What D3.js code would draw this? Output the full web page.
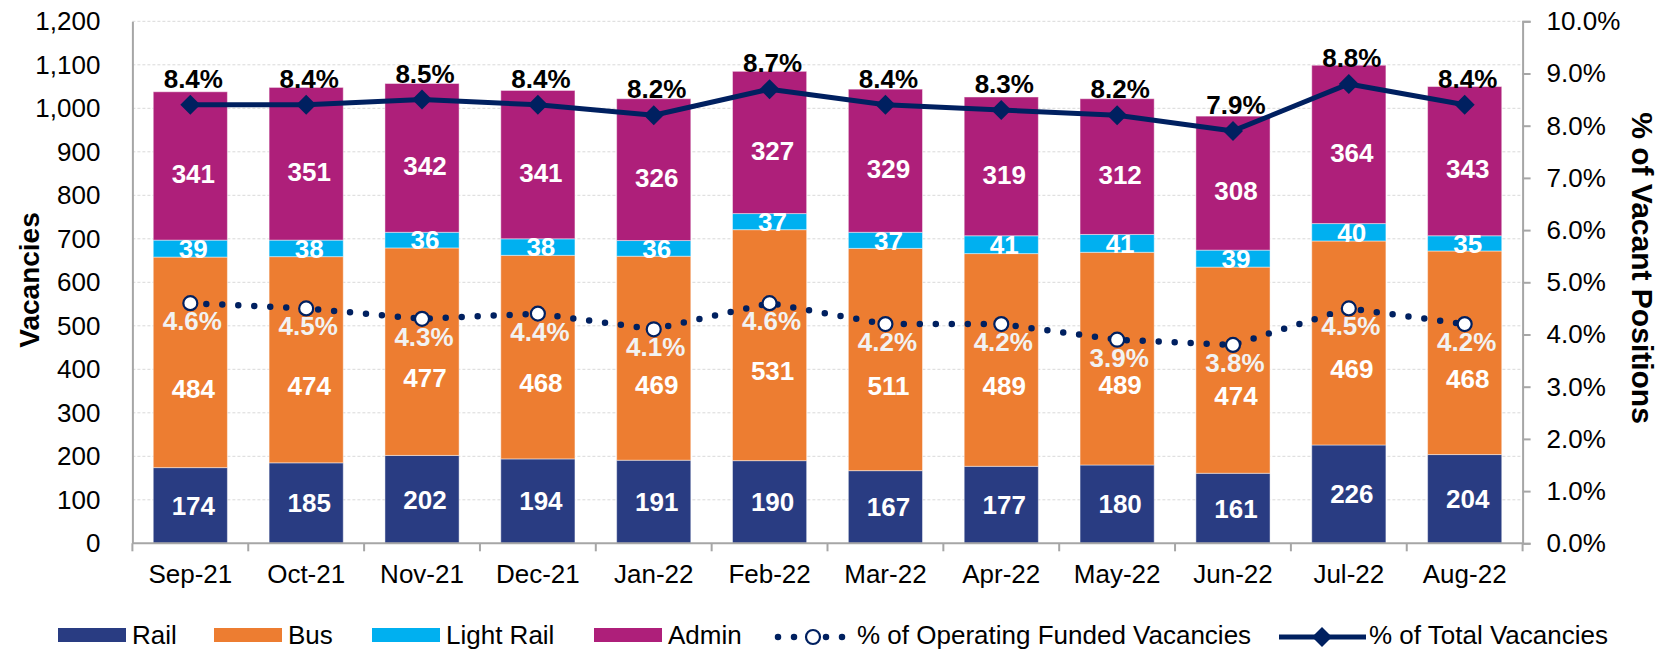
<!DOCTYPE html>
<html>
<head>
<meta charset="utf-8">
<script src="https://cdn.jsdelivr.net/npm/d3@7"></script>
<style>
  html, body { margin: 0; padding: 0; background: #ffffff; }
  svg { display: block; font-family: "Liberation Sans", Arial, sans-serif; }
</style>
</head>
<body>
<svg id="chart" width="1659" height="649"></svg>
<script>
// ---------- data ----------
const months = ["Sep-21","Oct-21","Nov-21","Dec-21","Jan-22","Feb-22","Mar-22","Apr-22","May-22","Jun-22","Jul-22","Aug-22"];
const rail      = [174, 185, 202, 194, 191, 190, 167, 177, 180, 161, 226, 204];
const bus       = [484, 474, 477, 468, 469, 531, 511, 489, 489, 474, 469, 468];
const lightRail = [39, 38, 36, 38, 36, 37, 37, 41, 41, 39, 40, 35];
const admin     = [341, 351, 342, 341, 326, 327, 329, 319, 312, 308, 364, 343];
const pctOperating = [4.6, 4.5, 4.3, 4.4, 4.1, 4.6, 4.2, 4.2, 3.9, 3.8, 4.5, 4.2];
const pctTotal     = [8.4, 8.4, 8.5, 8.4, 8.2, 8.7, 8.4, 8.3, 8.2, 7.9, 8.8, 8.4];
const leftTicks  = [0, 100, 200, 300, 400, 500, 600, 700, 800, 900, 1000, 1100, 1200];
const rightTicks = [0, 1, 2, 3, 4, 5, 6, 7, 8, 9, 10];
const seriesNames = ["Rail", "Bus", "Light Rail", "Admin"];

// ---------- layout ----------
const colors = { "Rail": "#293C82", "Bus": "#ED7D31", "Light Rail": "#00B0F0", "Admin": "#AE1F7A" };
const navy = "#002060";
const axisGray = "#a6a6a6";
const plot = { left: 132.4, right: 1522.6, top: 21.3, bottom: 543.3 };
const FS = 26;

const svg = d3.select("#chart");

const x = d3.scaleBand().domain(months).range([plot.left, plot.right]).paddingInner(0.36).paddingOuter(0.18);
const yL = d3.scaleLinear().domain([0, 1200]).range([plot.bottom, plot.top]);
const yR = d3.scaleLinear().domain([0, 10]).range([plot.bottom, plot.top]);
const cx = m => x(m) + x.bandwidth() / 2;

// gridlines
svg.append("g").selectAll("line").data(leftTicks.filter(d => d > 0)).join("line")
  .attr("x1", plot.left).attr("x2", plot.right)
  .attr("y1", d => yL(d)).attr("y2", d => yL(d))
  .attr("stroke", "#d9d9d9").attr("stroke-width", 1).attr("stroke-dasharray", "3,2");

// stacked bars
const rows = months.map((m, i) => ({ month: m, "Rail": rail[i], "Bus": bus[i], "Light Rail": lightRail[i], "Admin": admin[i] }));
const stacked = d3.stack().keys(seriesNames)(rows);

const barG = svg.append("g");
stacked.forEach(layer => {
  barG.append("g").selectAll("rect").data(layer).join("rect")
    .attr("x", d => x(d.data.month))
    .attr("width", x.bandwidth())
    .attr("y", d => yL(d[1]))
    .attr("height", d => yL(d[0]) - yL(d[1]))
    .attr("fill", colors[layer.key])
    .attr("stroke", "#ffffff").attr("stroke-opacity", 0.45).attr("stroke-width", 1);
});

// axes
const leftAxis = d3.axisLeft(yL).tickValues(leftTicks).tickSize(0).tickPadding(32).tickFormat(d3.format(","));
const gL = svg.append("g").attr("transform", `translate(${plot.left},0)`).call(leftAxis);
gL.select(".domain").attr("stroke", axisGray).attr("stroke-width", 2);
gL.selectAll("text").attr("font-size", FS).attr("fill", "#000").attr("font-family", "Liberation Sans, Arial, sans-serif");

const rightAxis = d3.axisRight(yR).tickValues(rightTicks).tickSize(8).tickPadding(16).tickFormat(d => d.toFixed(1) + "%");
const gR = svg.append("g").attr("transform", `translate(${plot.right},0)`).call(rightAxis);
gR.select(".domain").attr("stroke", axisGray).attr("stroke-width", 2);
gR.selectAll(".tick line").attr("stroke", axisGray).attr("stroke-width", 2);
gR.selectAll("text").attr("font-size", FS).attr("fill", "#000").attr("font-family", "Liberation Sans, Arial, sans-serif");

// x axis with ticks at band boundaries
const gX = svg.append("g");
gX.append("line").attr("x1", plot.left).attr("x2", plot.right).attr("y1", plot.bottom).attr("y2", plot.bottom)
  .attr("stroke", axisGray).attr("stroke-width", 2);
const boundaries = months.map(m => x(m) - x.step() * x.paddingInner() / 2).concat([plot.right]);
gX.selectAll("line.tk").data(boundaries).join("line").attr("class", "tk")
  .attr("x1", d => d).attr("x2", d => d).attr("y1", plot.bottom).attr("y2", plot.bottom + 8)
  .attr("stroke", axisGray).attr("stroke-width", 2);
gX.selectAll("text").data(months).join("text")
  .attr("x", d => cx(d)).attr("y", 583).attr("text-anchor", "middle")
  .attr("font-size", FS).attr("fill", "#000").text(d => d);

// axis titles
svg.append("text").attr("transform", `translate(39,280) rotate(-90)`)
  .attr("text-anchor", "middle").attr("font-size", 28).attr("font-weight", "bold").text("Vacancies");
svg.append("text").attr("transform", `translate(1632,268) rotate(90)`)
  .attr("text-anchor", "middle").attr("font-size", 30).attr("font-weight", "bold").text("% of Vacant Positions");

// segment labels
const labelG = svg.append("g").attr("font-size", FS).attr("font-weight", "bold").attr("text-anchor", "middle").attr("fill", "#ffffff");
const capMid = 0.358 * FS;
stacked.forEach(layer => {
  const shift = layer.key === "Bus" ? 26 : (layer.key === "Admin" ? 8 : 0);
  labelG.append("g").selectAll("text").data(layer).join("text")
    .attr("x", d => cx(d.data.month) + 3)
    .attr("y", d => (yL(d[0]) + yL(d[1])) / 2 + shift + capMid)
    .text(d => d[1] - d[0]);
});

// operating funded vacancies: dotted line + circles
const lineOp = d3.line().x((d, i) => cx(months[i])).y(d => yR(d));
svg.append("path").datum(pctOperating).attr("d", lineOp)
  .attr("fill", "none").attr("stroke", navy).attr("stroke-width", 6.5)
  .attr("stroke-linecap", "round").attr("stroke-dasharray", "0 16");
svg.append("g").selectAll("circle").data(pctOperating).join("circle")
  .attr("cx", (d, i) => cx(months[i])).attr("cy", d => yR(d)).attr("r", 7)
  .attr("fill", "#ffffff").attr("stroke", navy).attr("stroke-width", 2.2);
svg.append("g").selectAll("text").data(pctOperating).join("text")
  .attr("x", (d, i) => cx(months[i]) + 2).attr("y", d => yR(d) + 27)
  .attr("text-anchor", "middle").attr("font-size", FS).attr("font-weight", "bold").attr("fill", "#f2f2f2")
  .text(d => d.toFixed(1) + "%");

// total vacancies: solid line + diamonds
const lineTot = d3.line().x((d, i) => cx(months[i])).y(d => yR(d));
svg.append("path").datum(pctTotal).attr("d", lineTot)
  .attr("fill", "none").attr("stroke", navy).attr("stroke-width", 5).attr("stroke-linejoin", "round");
const diamond = "M0,-10L10,0L0,10L-10,0Z";
svg.append("g").selectAll("path").data(pctTotal).join("path")
  .attr("transform", (d, i) => `translate(${cx(months[i])},${yR(d)})`)
  .attr("d", diamond).attr("fill", navy);
svg.append("g").selectAll("text").data(pctTotal).join("text")
  .attr("x", (d, i) => cx(months[i]) + 3).attr("y", d => yR(d) - 17)
  .attr("text-anchor", "middle").attr("font-size", FS).attr("font-weight", "bold").attr("fill", "#000")
  .text(d => d.toFixed(1) + "%");

// legend
const legY = 644;
const leg = svg.append("g").attr("font-size", FS).attr("fill", "#000");
const swatches = [
  { name: "Rail", x0: 58 }, { name: "Bus", x0: 214 }, { name: "Light Rail", x0: 372 }, { name: "Admin", x0: 594 }
];
swatches.forEach(s => {
  leg.append("rect").attr("x", s.x0).attr("y", 628).attr("width", 68).attr("height", 14).attr("fill", colors[s.name]);
  leg.append("text").attr("x", s.x0 + 74).attr("y", legY).text(s.name);
});
// dotted marker
leg.append("line").attr("x1", 778).attr("x2", 846).attr("y1", 637).attr("y2", 637)
  .attr("stroke", navy).attr("stroke-width", 6.5).attr("stroke-linecap", "round").attr("stroke-dasharray", "0 16");
leg.append("circle").attr("cx", 813).attr("cy", 637).attr("r", 7).attr("fill", "#fff").attr("stroke", navy).attr("stroke-width", 2.2);
leg.append("text").attr("x", 857).attr("y", legY).text("% of Operating Funded Vacancies");
// solid marker
leg.append("line").attr("x1", 1279).attr("x2", 1366).attr("y1", 637).attr("y2", 637)
  .attr("stroke", navy).attr("stroke-width", 5);
leg.append("path").attr("transform", "translate(1322,637)").attr("d", diamond).attr("fill", navy);
leg.append("text").attr("x", 1369).attr("y", legY).text("% of Total Vacancies");
</script>
</body>
</html>
